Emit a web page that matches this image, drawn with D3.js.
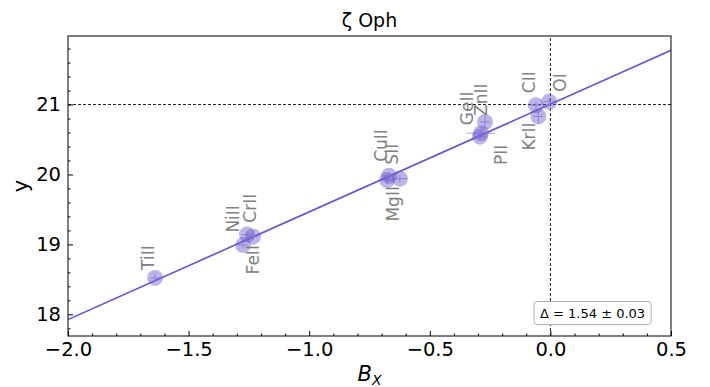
<!DOCTYPE html>
<html lang="en">
<head>
    <meta charset="UTF-8">
    <title>zeta Oph</title>
    <style>
        body {
            margin: 0;
            padding: 0;
            overflow: hidden;
            background: #fff;
            font-family: "DejaVu Sans", sans-serif;
        }
    </style>
    <script src="https://d3js.org/d3.v7.min.js"></script>
</head>
<body>
    <svg id="chart" width="710" height="387"></svg>

    <script>
        const ions = ['TiII', 'NiII', 'CrII', 'FeII', 'CuII', 'SII', 'MgII', 'GeII', 'ZnII', 'PII', 'CII', 'KrII', 'OI'];
        const bx = [-1.639, -1.258, -1.233, -1.274, -0.669, -0.624, -0.677, -0.288, -0.271, -0.292, -0.060, -0.050, -0.005];
        const yv = [18.52, 19.14, 19.11, 18.99, 19.98, 19.94, 19.92, 20.59, 20.75, 20.54, 20.99, 20.83, 21.04];
        const bxErr = [0.02, 0.02, 0.02, 0.02, 0.02, 0.03, 0.02, 0.06, 0.02, 0.02, 0.02, 0.02, 0.02];
        const yErr = [0.05, 0.05, 0.05, 0.05, 0.05, 0.05, 0.05, 0.05, 0.1, 0.05, 0.05, 0.1, 0.05];

        // label placement in px relative to the point (dx, dy, above/below)
        const labelDx = [-7, -14, -3, 10, -8, -8, 6, -14, -4, 21, -7, -9, 11];
        const labelDy = [-8, -2, -14, 0, -14, -14, 6, -8, -6, 8, -12, 6, -10];
        const labelAbove = [true, true, true, false, true, true, false, true, true, false, true, false, true];

        // linear fit y = a + slope * B_X
        const fitA = 21.005;
        const fitSlope = 1.54;
        const fitText = 'Δ = 1.54 ± 0.03';

        const xTicks = [-2.0, -1.5, -1.0, -0.5, 0.0, 0.5];
        const yTicks = [18, 19, 20, 21];

        const margin = {top: 36, right: 39, bottom: 51, left: 68};
        const width = 710, height = 387;
        const svg = d3.select('#chart');

        const x = d3.scaleLinear().domain([-2.0, 0.5]).range([margin.left, width - margin.right]);
        const y = d3.scaleLinear().domain([17.69, 21.98]).range([height - margin.bottom, margin.top]);

        const plot = svg.append('g');

        // clip to the axes area
        svg.append('defs').append('clipPath').attr('id', 'clip')
            .append('rect')
            .attr('x', x(-2.0)).attr('y', y(21.98))
            .attr('width', x(0.5) - x(-2.0)).attr('height', y(17.69) - y(21.98));

        const inner = plot.append('g').attr('clip-path', 'url(#clip)');

        // reference lines
        inner.append('line')
            .attr('x1', x(-2.0)).attr('x2', x(0.5))
            .attr('y1', y(21)).attr('y2', y(21))
            .attr('stroke', '#000').attr('stroke-width', 0.9).attr('stroke-dasharray', '3,2');
        inner.append('line')
            .attr('x1', x(0)).attr('x2', x(0))
            .attr('y1', y(17.69)).attr('y2', y(21.98))
            .attr('stroke', '#000').attr('stroke-width', 0.9).attr('stroke-dasharray', '3,2');

        // fit line
        inner.append('line')
            .attr('x1', x(-2.0)).attr('y1', y(fitA + fitSlope * -2.0))
            .attr('x2', x(0.5)).attr('y2', y(fitA + fitSlope * 0.5))
            .attr('stroke', '#6a5acd').attr('stroke-width', 1.7);

        const idx = d3.range(ions.length);

        // error bars
        inner.selectAll('.xerr').data(idx).enter().append('line')
            .attr('x1', i => x(bx[i] - bxErr[i])).attr('x2', i => x(bx[i] + bxErr[i]))
            .attr('y1', i => y(yv[i])).attr('y2', i => y(yv[i]))
            .attr('stroke', '#a9a1e3').attr('stroke-width', 1);
        inner.selectAll('.yerr').data(idx).enter().append('line')
            .attr('x1', i => x(bx[i])).attr('x2', i => x(bx[i]))
            .attr('y1', i => y(yv[i] - yErr[i])).attr('y2', i => y(yv[i] + yErr[i]))
            .attr('stroke', '#a9a1e3').attr('stroke-width', 1);

        // points
        inner.selectAll('.pt').data(idx).enter().append('circle')
            .attr('cx', i => x(bx[i])).attr('cy', i => y(yv[i]))
            .attr('r', 8)
            .attr('fill', '#6a5acd').attr('fill-opacity', 0.45);

        // ion labels, rotated 90 degrees
        plot.selectAll('.ion-label').data(idx).enter().append('text')
            .attr('class', 'ion-label')
            .attr('transform', i => {
                const px = x(bx[i]) + labelDx[i];
                const py = y(yv[i]) + labelDy[i];
                return `translate(${px},${py}) rotate(-90)`;
            })
            .attr('text-anchor', i => labelAbove[i] ? 'start' : 'end')
            .attr('dy', '0.35em')
            .style('font-size', '17px')
            .style('fill', '#808080')
            .text(i => ions[i]);

        // axes frame
        plot.append('rect')
            .attr('x', x(-2.0)).attr('y', y(21.98))
            .attr('width', x(0.5) - x(-2.0)).attr('height', y(17.69) - y(21.98))
            .attr('fill', 'none').attr('stroke', '#000').attr('stroke-width', 1);

        // ticks pointing inward
        const xAxis = d3.axisBottom(x).tickValues(xTicks).tickSize(-5).tickPadding(6)
            .tickFormat(d => d3.format('.1f')(d).replace('-', '\u2212'));
        const gx = plot.append('g').attr('transform', `translate(0,${y(17.69)})`).call(xAxis);
        gx.select('.domain').remove();
        gx.attr('font-family', null).attr('font-size', null);
        gx.selectAll('text').style('font-size', '19.5px').style('font-family', '"DejaVu Sans", sans-serif');

        const xMinor = d3.axisBottom(x).tickValues(d3.range(-1.9, 0.5, 0.1).filter(v => Math.abs(v * 2 - Math.round(v * 2)) > 0.01))
            .tickSize(-2.5).tickFormat('');
        const gxm = plot.append('g').attr('transform', `translate(0,${y(17.69)})`).call(xMinor);
        gxm.select('.domain').remove();

        const yAxis = d3.axisLeft(y).tickValues(yTicks).tickSize(-5).tickPadding(7).tickFormat(d3.format('d'));
        const gy = plot.append('g').attr('transform', `translate(${x(-2.0)},0)`).call(yAxis);
        gy.select('.domain').remove();
        gy.attr('font-family', null).attr('font-size', null);
        gy.selectAll('text').style('font-size', '19.5px').style('font-family', '"DejaVu Sans", sans-serif');

        const yMinor = d3.axisLeft(y).tickValues(d3.range(17.8, 21.98, 0.2).filter(v => Math.abs(v - Math.round(v)) > 0.01))
            .tickSize(-2.5).tickFormat('');
        const gym = plot.append('g').attr('transform', `translate(${x(-2.0)},0)`).call(yMinor);
        gym.select('.domain').remove();

        // fit annotation box
        const boxCx = x(0.175), boxCy = y(17.69) - 23;
        const annBox = plot.append('rect');
        const ann = plot.append('text')
            .attr('x', boxCx).attr('y', boxCy)
            .attr('text-anchor', 'middle').attr('dy', '0.35em')
            .style('font-size', '13px')
            .text(fitText);
        const bb = ann.node().getBBox();
        annBox
            .attr('x', bb.x - 6).attr('y', bb.y - 4)
            .attr('width', bb.width + 12).attr('height', bb.height + 8)
            .attr('rx', 3)
            .attr('fill', '#fff').attr('stroke', '#b0b0b0').attr('stroke-width', 1);

        // title and axis labels
        svg.append('text')
            .attr('x', (x(-2.0) + x(0.5)) / 2).attr('y', 27)
            .attr('text-anchor', 'middle').style('font-size', '19px')
            .text('ζ Oph');

        svg.append('text')
            .attr('transform', `translate(28,${(y(17.69) + y(21.98)) / 2}) rotate(-90)`)
            .attr('text-anchor', 'middle').style('font-size', '21px')
            .text('y');

        const xl = svg.append('text')
            .attr('x', (x(-2.0) + x(0.5)) / 2).attr('y', 381)
            .attr('text-anchor', 'middle').style('font-size', '21px')
            .attr('font-style', 'italic');
        xl.append('tspan').text('B');
        xl.append('tspan').style('font-size', '14px').attr('dy', 4).text('X');
    </script>
</body>
</html>
